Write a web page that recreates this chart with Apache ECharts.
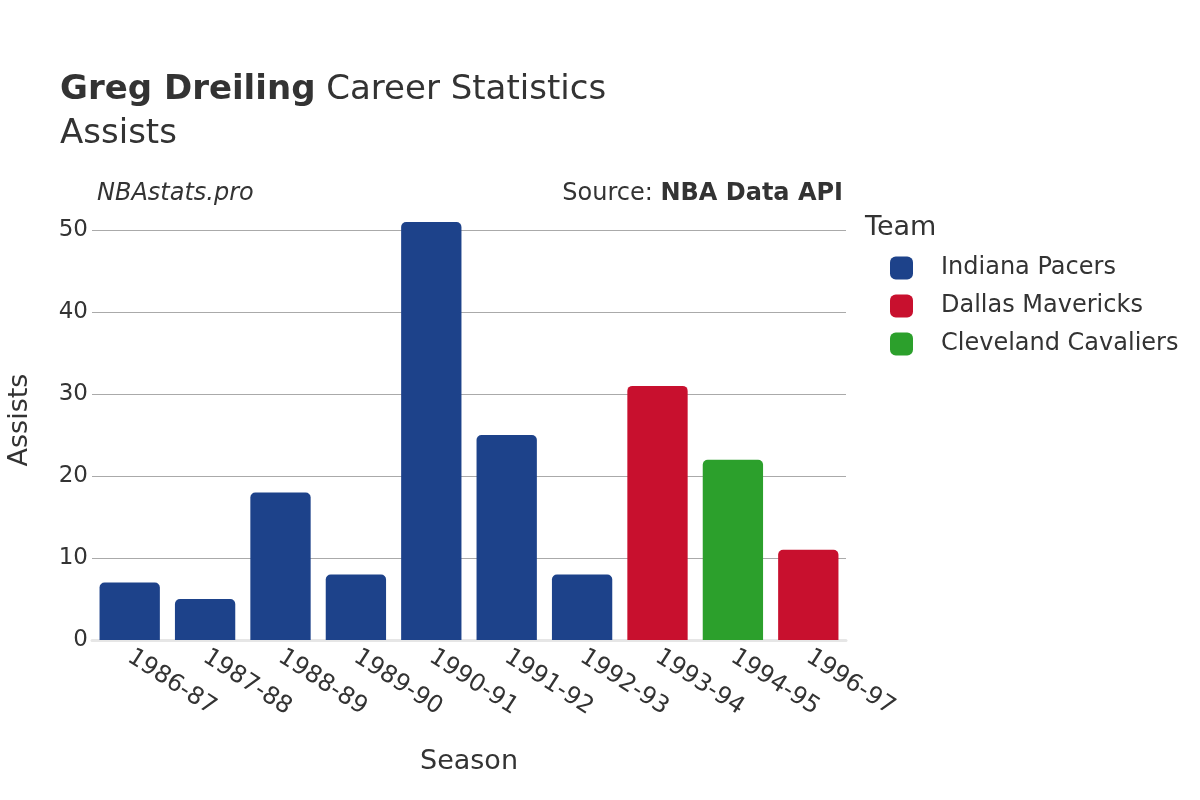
<!DOCTYPE html>
<html>
<head>
<meta charset="utf-8">
<script src="https://cdn.jsdelivr.net/npm/echarts@6/dist/echarts.min.js"></script>
<style>html,body{margin:0;padding:0;background:#fff}#c{width:1200px;height:800px}</style>
</head>
<body>
<div id="c"></div>
<script>
const seasons = ['1986-87','1987-88','1988-89','1989-90','1990-91','1991-92','1992-93','1993-94','1994-95','1996-97'];
const teams = ['Indiana Pacers','Dallas Mavericks','Cleveland Cavaliers'];
const teamColors = ['#1d428a','#c8102e','#2ca02c'];
const pacers    = [7, 5, 18, 8, 51, 25, 8, null, null, null];
const mavericks = [null, null, null, null, null, null, null, 31, null, 11];
const cavaliers = [null, null, null, null, null, null, null, null, 22, null];
const yTickMax = 50;

const FONT = 'DejaVu Sans';
const seriesData = [pacers, mavericks, cavaliers];
const chart = echarts.init(document.getElementById('c'), null, {renderer: 'canvas'});
chart.setOption({
  animation: false,
  textStyle: {fontFamily: FONT},
  grid: [
    {left: 92, right: 354, top: 200, bottom: 160, containLabel: false, outerBoundsMode: 'none'},
    {left: 92, right: 354, top: 230, bottom: 160, containLabel: false, outerBoundsMode: 'none'}
  ],
  title: [
    {text: '{b|Greg Dreiling} Career Statistics', left: 55, top: 68,
     textStyle: {fontFamily: FONT, fontSize: 34, color: '#333', fontWeight: 'normal',
       rich: {b: {fontFamily: FONT, fontSize: 34, fontWeight: 'bold', color: '#333'}}}},
    {text: 'Assists', left: 55, top: 112, textStyle: {fontFamily: FONT, fontSize: 34, color: '#333', fontWeight: 'normal'}}
  ],
  graphic: [
    {type: 'text', left: 97, top: 182, style: {text: 'NBAstats.pro', font: 'italic 24px "DejaVu Sans"', fill: '#333'}},
    {type: 'text', right: 357, top: 182, style: {text: '{n|Source: }{b|NBA Data API}', font: '24px "DejaVu Sans"', fill: '#333',
      rich: {n: {fontFamily: FONT, fontSize: 24, color: '#333'}, b: {fontFamily: FONT, fontSize: 24, fontWeight: 'bold', color: '#333'}}}},
    {type: 'text', left: 865, top: 214, style: {text: 'Team', font: '27px "DejaVu Sans"', fill: '#333'}}
  ],
  legend: {
    orient: 'vertical', left: 885, top: 251, itemWidth: 23, itemHeight: 23, itemGap: 14,
    icon: 'roundRect', data: teams,
    textStyle: {fontFamily: FONT, fontSize: 24, color: '#333', padding: [0, 0, 0, 23]}
  },
  xAxis: [{
    type: 'category', data: seasons, gridIndex: 0,
    name: 'Season', nameLocation: 'middle', nameGap: 108,
    nameTextStyle: {fontFamily: FONT, fontSize: 27, color: '#333'},
    axisLine: {show: true, lineStyle: {color: '#e6e6e6', width: 3}},
    axisTick: {show: false},
    axisLabel: {rotate: -33, fontFamily: FONT, fontSize: 24, color: '#333', margin: 15, align: 'left', verticalAlign: 'middle', interval: 0}
  }, {
    type: 'category', data: seasons, gridIndex: 1, show: false
  }],
  yAxis: [{
    type: 'value', min: 0, max: 53.68, gridIndex: 0,
    name: 'Assists', nameLocation: 'middle', nameGap: 59,
    nameTextStyle: {fontFamily: FONT, fontSize: 27, color: '#333'},
    axisLine: {show: false}, axisTick: {show: false}, axisLabel: {show: false}, splitLine: {show: false}
  }, {
    type: 'value', min: 0, max: yTickMax, interval: 10, gridIndex: 1,
    axisLine: {show: false},
    axisTick: {show: false},
    axisLabel: {fontFamily: FONT, fontSize: 23, color: '#333', margin: 4},
    splitLine: {show: true, lineStyle: {color: '#aaa', width: 1}}
  }],
  series: teams.map((t, i) => ({
    name: t, type: 'bar', stack: 'all', data: seriesData[i],
    xAxisIndex: 0, yAxisIndex: 0,
    barCategoryGap: '20%',
    itemStyle: {color: teamColors[i], borderRadius: [5, 5, 0, 0]}
  }))
});
</script>
</body>
</html>
